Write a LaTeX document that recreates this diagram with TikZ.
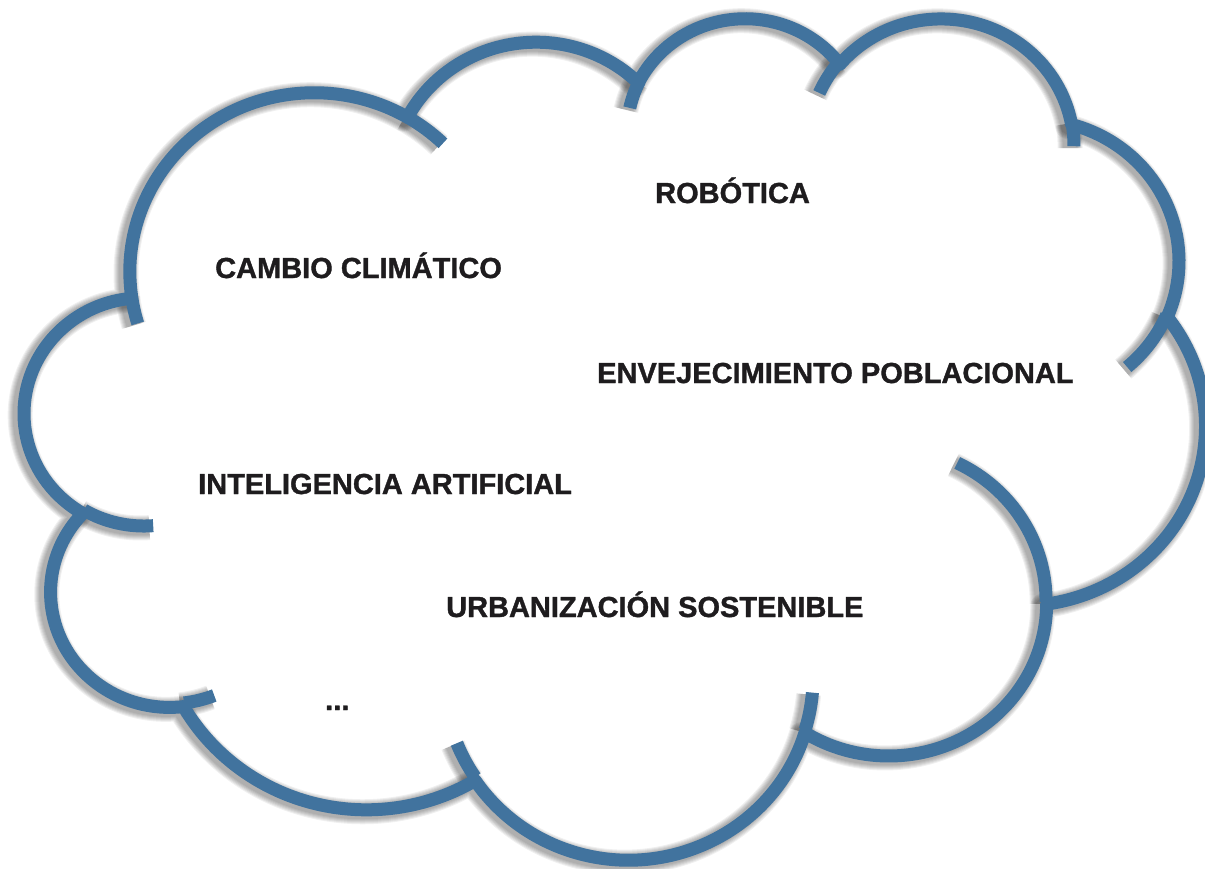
\documentclass[tikz,border=0pt]{standalone}
\usepackage{fontspec}
\setmainfont{Liberation Sans}[BoldFeatures={FakeBold=1.2}]
\usetikzlibrary{positioning}
\definecolor{cloudblue}{RGB}{65,115,158}
\definecolor{textblack}{RGB}{30,28,30}
\tikzstyle{cloudline} = [draw=cloudblue, line width=13pt, line join=round]
\tikzstyle{blurline} = [draw=black, opacity=0.06, line join=round]
\tikzstyle{topic} = [anchor=base west, inner sep=0pt, text=textblack, font=\fontsize{29}{34}\selectfont\bfseries]

% outline arcs: x radius / y radius / start / sweep (visual angles)
\newcommand{\cloudoutline}{}
\foreach \wr/\hr/\st/\sw in {675.3/919.0/-190.4875/123.7805, 533.3/726.7/-144.1024/89.9452,
  436.5/594.5/-145.8079/99.7230, 485.7/659.5/-130.9861/117.2417, 533.3/727.3/-78.7089/109.0269,
  677.5/922.0/-46.2673/130.2690, 578.5/786.7/0.6250/114.0333, 675.2/921.5/22.4516/115.1726,
  772.0/1054.3/66.2426/75.7110, 436.0/591.8/-274.9421/146.7356, 434.5/594.5/-246.8285/152.5189}{
  \pgfmathsetmacro\tA{atan2(\wr*sin(\st),\hr*cos(\st))}
  \pgfmathsetmacro\tB{atan2(\wr*sin(\st+\sw),\hr*cos(\st+\sw))}
  \pgfmathsetmacro\tB{ifthenelse(\tB<\tA,\tB+360,\tB)}
  \xdef\cloudoutline{\cloudoutline arc[start angle=\tA, end angle=\tB, x radius=\wr, y radius=\hr]}
}
% the short inner creases
\newcommand{\cloudcreases}{}
\foreach \mx/\my/\wr/\hr/\st/\sw in {469.3/2617.7/434.5/594.5/86.7420/26.4295,
  692.8/3489.9/436.0/591.8/73.6105/11.4475, 1647.8/3909.0/675.2/921.5/137.6242/14.0811,
  2882.7/3475.1/675.2/921.5/6.4533/15.9984, 3412.9/2295.4/578.5/786.7/-70.2924/70.9174,
  4179.8/1535.4/533.3/727.3/30.3180/27.7515, 3832.4/542.6/485.7/659.5/-13.7443/14.8589,
  2907.8/395.2/485.7/659.5/-149.1815/18.1954, 2214.1/472.0/436.5/594.5/-163.4943/17.6864,
  1400.0/519.2/675.3/919.0/-66.7070/12.3194, 412.7/1578.9/675.3/919.0/157.6544/11.8582}{
  \pgfmathsetmacro\tA{atan2(\wr*sin(\st),\hr*cos(\st))}
  \pgfmathsetmacro\tB{atan2(\wr*sin(\st+\sw),\hr*cos(\st+\sw))}
  \pgfmathsetmacro\tB{ifthenelse(\tB<\tA,\tB+360,\tB)}
  \xdef\cloudcreases{\cloudcreases (\mx,\my) arc[start angle=\tA, end angle=\tB, x radius=\wr, y radius=\hr]}
}

\begin{document}
\begin{tikzpicture}[x=1pt, y=-1pt]
\path [use as bounding box, fill=white] (0,0) rectangle (1205,868);
\begin{scope}[shift={(25,16)}, x=0.27315pt, y=-0.1947pt]
% soft shadow
\foreach \k in {1,...,6} {
  \draw [blurline, line width=13+2*\k, shift={(-14,10)}] (390,1437) \cloudoutline -- cycle;
  \draw [blurline, line width=13+2*\k, shift={(-14,10)}] \cloudcreases;
}
\draw [cloudline] (390,1437) \cloudoutline -- cycle;
\draw [cloudline] \cloudcreases;
\end{scope}
\node (robotica) [topic] at (655,203) {ROBÓTICA};
\node (cambio) [topic] at (215,278) {CAMBIO CLIMÁTICO};
\node (envejecimiento) [topic] at (597,383) {ENVEJECIMIENTO POBLACIONAL};
\node (inteligencia) [topic] at (198,494) {INTELIGENCIA ARTIFICIAL};
\node (urbanizacion) [topic] at (446,617) {URBANIZACIÓN SOSTENIBLE};
\node (etc) [topic] at (325,710) {...};
\end{tikzpicture}
\end{document}
